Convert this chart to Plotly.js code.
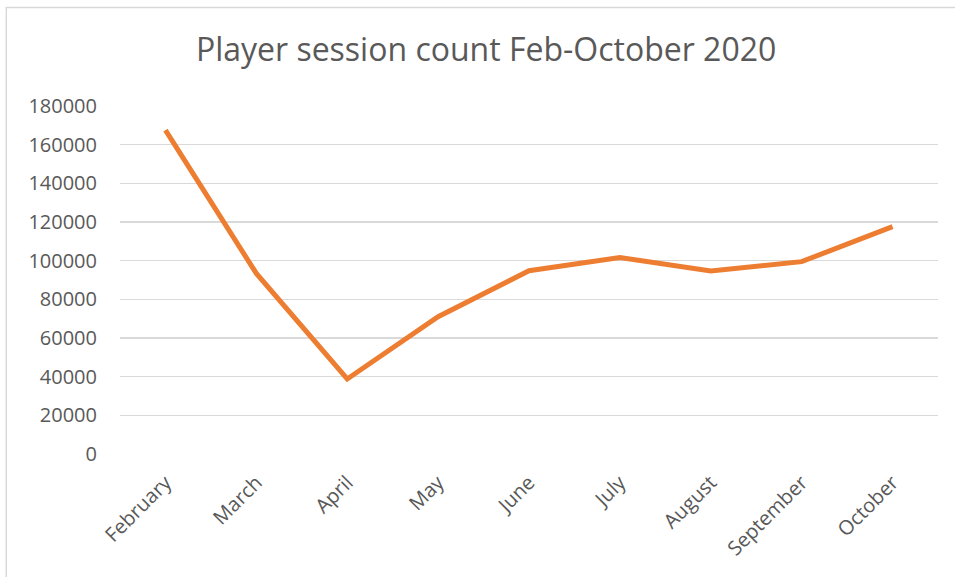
<!DOCTYPE html>
<html>
<head>
<meta charset="utf-8">
<script src="https://cdn.plot.ly/plotly-3.0.1.min.js"></script>
<style>
  html, body { margin: 0; padding: 0; background: #fff; }
  #chart { width: 955px; height: 577px; }
</style>
</head>
<body>
<div id="chart"></div>
<script>
const months = ["February", "March", "April", "May", "June", "July", "August", "September", "October"];
const sessionCounts = [167500, 93400, 38800, 71000, 94800, 101600, 94700, 99500, 117600];
const yTickValues = [0, 20000, 40000, 60000, 80000, 100000, 120000, 140000, 160000, 180000];
const chartTitle = "Player session count Feb-October 2020";

const fontFamily = "'Open Sans', 'Noto Sans', sans-serif";
const textColor = "#595959";

const trace = {
  x: months,
  y: sessionCounts,
  type: "scatter",
  mode: "lines",
  line: { color: "#ED7D31", width: 5, shape: "linear" },
  hoverinfo: "x+y"
};

const layout = {
  width: 955,
  height: 577,
  margin: { l: 120, r: 17, t: 106, b: 123 },
  paper_bgcolor: "#ffffff",
  plot_bgcolor: "#ffffff",
  showlegend: false,
  title: {
    text: chartTitle,
    font: { family: fontFamily, size: 32, color: textColor },
    xref: "container", x: 0.509, xanchor: "center",
    yref: "container", y: 0.913, yanchor: "middle"
  },
  xaxis: {
    type: "category",
    showgrid: false,
    showline: false,
    zeroline: false,
    ticks: "",
    tickangle: -45,
    ticklabelstandoff: 12,
    tickfont: { family: fontFamily, size: 20, color: textColor },
    range: [-0.5, months.length - 0.5]
  },
  yaxis: {
    range: [0, 180000],
    tickvals: yTickValues,
    ticktext: yTickValues.map(v => String(v)),
    showgrid: true,
    gridcolor: "#D9D9D9",
    gridwidth: 1.5,
    zeroline: false,
    showline: false,
    ticks: "",
    ticklabelstandoff: 22,
    tickfont: { family: fontFamily, size: 20, color: textColor }
  },
  shapes: [
    {
      type: "path",
      xref: "paper", yref: "paper",
      path: "M -0.139,-0.5 L -0.139,1.283 L 1.1,1.283",
      line: { color: "#D9D9D9", width: 1.5 },
      layer: "below"
    }
  ]
};

Plotly.newPlot("chart", [trace], layout, { displayModeBar: false, staticPlot: true });
</script>
</body>
</html>
